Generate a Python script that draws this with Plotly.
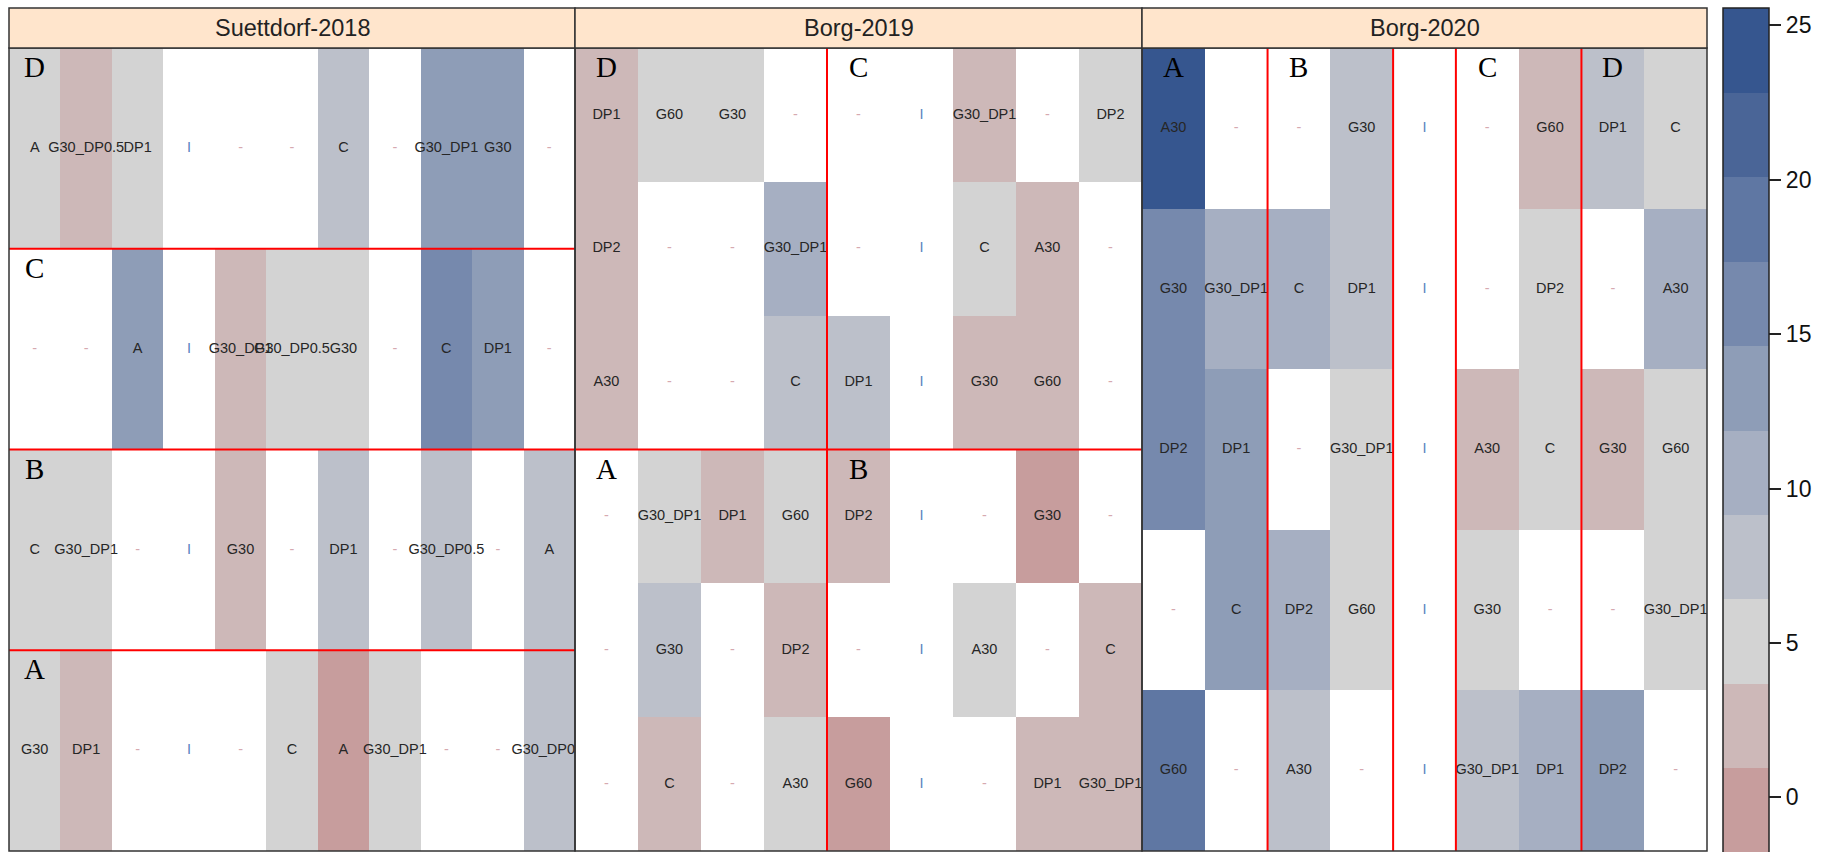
import math
import plotly.graph_objects as go

NA = float("nan")

# ---------------- data ----------------
panel_titles = ["Suettdorf-2018", "Borg-2019", "Borg-2020"]

# Suettdorf-2018: 4 rows (blocks D, C, B, A from top) x 11 plots
p1_labels = [
    ["A", "G30_DP0.5", "DP1", "I", "-", "-", "C", "-", "G30_DP1", "G30", "-"],
    ["-", "-", "A", "I", "G30_DP1", "G30_DP0.5", "G30", "-", "C", "DP1", "-"],
    ["C", "G30_DP1", "-", "I", "G30", "-", "DP1", "-", "G30_DP0.5", "-", "A"],
    ["G30", "DP1", "-", "I", "-", "C", "A", "G30_DP1", "-", "-", "G30_DP0.5"],
]
p1_values = [
    [5.1, 2.4, 4.6, NA, NA, NA, 8.1, NA, 13.0, 12.6, NA],
    [NA, NA, 13.2, NA, 2.0, 5.3, 4.4, NA, 16.2, 13.5, NA],
    [4.9, 5.6, NA, NA, 2.2, NA, 7.4, NA, 8.3, NA, 7.6],
    [5.2, 2.6, NA, NA, NA, 4.7, -0.4, 5.5, NA, NA, 8.0],
]
p1_blocks = [("D", 0, 0), ("C", 0, 1), ("B", 0, 2), ("A", 0, 3)]
p1_hlines = [1, 2, 3]
p1_vlines = []

# Borg-2019: 6 rows x 9 plots
p2_labels = [
    ["DP1", "G60", "G30", "-", "-", "I", "G30_DP1", "-", "DP2"],
    ["DP2", "-", "-", "G30_DP1", "-", "I", "C", "A30", "-"],
    ["A30", "-", "-", "C", "DP1", "I", "G30", "G60", "-"],
    ["-", "G30_DP1", "DP1", "G60", "DP2", "I", "-", "G30", "-"],
    ["-", "G30", "-", "DP2", "-", "I", "A30", "-", "C"],
    ["-", "C", "-", "A30", "G60", "I", "-", "DP1", "G30_DP1"],
]
p2_values = [
    [2.3, 5.0, 4.5, NA, NA, NA, 2.0, NA, 5.4],
    [2.7, NA, NA, 10.6, NA, NA, 4.8, 2.5, NA],
    [1.9, NA, NA, 7.5, 7.9, NA, 2.2, 2.9, NA],
    [NA, 5.2, 2.6, 4.4, 2.1, NA, NA, 0.3, NA],
    [NA, 8.2, NA, 2.4, NA, NA, 5.9, NA, 1.8],
    [NA, 2.8, NA, 5.0, -1.79, NA, NA, 2.0, 3.1],
]
p2_blocks = [("D", 0, 0), ("C", 4, 0), ("A", 0, 3), ("B", 4, 3)]
p2_hlines = [3]
p2_vlines = [4]

# Borg-2020: 5 rows x 9 plots
p3_labels = [
    ["A30", "-", "-", "G30", "I", "-", "G60", "DP1", "C"],
    ["G30", "G30_DP1", "C", "DP1", "I", "-", "DP2", "-", "A30"],
    ["DP2", "DP1", "-", "G30_DP1", "I", "A30", "C", "G30", "G60"],
    ["-", "C", "DP2", "G60", "I", "G30", "-", "-", "G30_DP1"],
    ["G60", "-", "A30", "-", "I", "G30_DP1", "DP1", "DP2", "-"],
]
p3_values = [
    [25.58, NA, NA, 7.7, NA, NA, 2.6, 8.0, 5.2],
    [16.3, 10.2, 10.8, 7.6, NA, NA, 4.9, NA, 10.4],
    [15.8, 13.4, NA, 5.6, NA, 2.2, 4.6, 2.5, 5.1],
    [NA, 13.0, 10.9, 4.8, NA, 5.3, NA, NA, 4.5],
    [19.0, NA, 7.8, NA, NA, 8.1, 10.1, 13.6, NA],
]
p3_blocks = [("A", 0, 0), ("B", 2, 0), ("C", 5, 0), ("D", 7, 0)]
p3_hlines = []
p3_vlines = [2, 4, 5, 7]

color_min = -1.79
color_max = 25.58
colorbar_ticks = [0, 5, 10, 15, 20, 25]
# 10 discrete colour bands, low -> high
band_colors = ["#c79d9d", "#cdb8b8", "#d3d3d3", "#bcc0ca", "#a6afc2",
               "#8e9db7", "#7689ad", "#5f77a3", "#4a6597", "#36568f"]

# ---------------- layout geometry (pixels) ----------------
W, H = 1836, 852
panel_x = [(9, 575), (575, 1142), (1142, 1707)]
plot_top, plot_bot = 48, 851
strip_top = 8

def px(x):
    return x / W

def py(y):
    return 1 - y / H

scale = []
n = len(band_colors)
for i, c in enumerate(band_colors):
    scale.append([i / n, c])
    scale.append([(i + 1) / n, c])

FONT = "Liberation Sans, Arial, sans-serif"
SERIF = "Liberation Serif, Times New Roman, serif"

fig = go.Figure()
shapes = []
annotations = []

panels = [
    (p1_labels, p1_values, p1_blocks, p1_hlines, p1_vlines),
    (p2_labels, p2_values, p2_blocks, p2_hlines, p2_vlines),
    (p3_labels, p3_values, p3_blocks, p3_hlines, p3_vlines),
]

for k, (labels, values, blocks, hl, vl) in enumerate(panels):
    nrows = len(values)
    ncols = len(values[0])
    sfx = "" if k == 0 else str(k + 1)
    xa, ya = "x" + sfx, "y" + sfx
    xs = [c + 0.5 for c in range(ncols)]
    ys = [r + 0.5 for r in range(nrows)]
    fig.add_trace(go.Heatmap(
        z=values, x=xs, y=ys, coloraxis="coloraxis",
        xaxis=xa, yaxis=ya, hoverinfo="skip"))
    tx, ty, tt, tc = [], [], [], []
    for r in range(nrows):
        for c in range(ncols):
            lab = labels[r][c]
            tx.append(c + 0.5)
            ty.append(r + 0.5)
            tt.append(lab)
            if lab == "-":
                tc.append("#d6a9b0")
            elif lab == "I":
                tc.append("#5a82c0")
            else:
                tc.append("#262626")
    fig.add_trace(go.Scatter(
        x=tx, y=ty, text=tt, mode="text", xaxis=xa, yaxis=ya,
        cliponaxis=True, showlegend=False, hoverinfo="skip",
        textfont=dict(family=FONT, size=14.5, color=tc)))
    x0, x1 = panel_x[k]
    fig.layout["xaxis" + sfx] = dict(domain=[px(x0), px(x1)], range=[0, ncols],
                                     visible=False, fixedrange=True)
    fig.layout["yaxis" + sfx] = dict(domain=[py(plot_bot), py(plot_top)],
                                     range=[nrows, 0], visible=False,
                                     fixedrange=True)
    for y in hl:
        shapes.append(dict(type="line", xref=xa, yref=ya, x0=0, x1=ncols,
                           y0=y, y1=y, line=dict(color="#ff0000", width=2),
                           layer="above"))
    for x in vl:
        shapes.append(dict(type="line", xref=xa, yref=ya, x0=x, x1=x,
                           y0=0, y1=nrows, line=dict(color="#ff0000", width=2),
                           layer="above"))
    for (letter, c, r) in blocks:
        annotations.append(dict(text=letter, xref=xa, yref=ya, x=c + 0.5, y=r,
                                xanchor="center", yanchor="middle", yshift=-19,
                                showarrow=False,
                                font=dict(family=SERIF, size=29, color="#000")))
    # panel border
    shapes.append(dict(type="rect", xref="paper", yref="paper",
                       x0=px(x0), x1=px(x1), y0=py(plot_bot), y1=py(plot_top),
                       line=dict(color="#333333", width=1.5), layer="above"))
    # strip
    shapes.append(dict(type="rect", xref="paper", yref="paper",
                       x0=px(x0), x1=px(x1), y0=py(plot_top), y1=py(strip_top),
                       fillcolor="#ffe5cc", line=dict(color="#333333", width=1.5),
                       layer="above"))
    annotations.append(dict(text=panel_titles[k], xref="paper", yref="paper",
                            x=px((x0 + x1) / 2), y=py((strip_top + plot_top) / 2),
                            xanchor="center", yanchor="middle", showarrow=False,
                            font=dict(family=FONT, size=23.5, color="#222")))

fig.update_layout(
    width=W, height=H, margin=dict(l=0, r=0, t=0, b=0),
    paper_bgcolor="white", plot_bgcolor="white", showlegend=False,
    shapes=shapes, annotations=annotations,
    coloraxis=dict(
        colorscale=scale, cmin=color_min, cmax=color_max,
        colorbar=dict(
            thickness=46, thicknessmode="pixels",
            len=845, lenmode="pixels",
            x=px(1723), xanchor="left", y=py(7.5), yanchor="top",
            xpad=0, ypad=0, outlinewidth=1.5, outlinecolor="#222",
            ticks="outside", ticklen=12, tickwidth=1.5, tickcolor="#222",
            tickvals=colorbar_ticks,
            tickfont=dict(family=FONT, size=23, color="#111"))),
)

fig.write_html("out.html")
